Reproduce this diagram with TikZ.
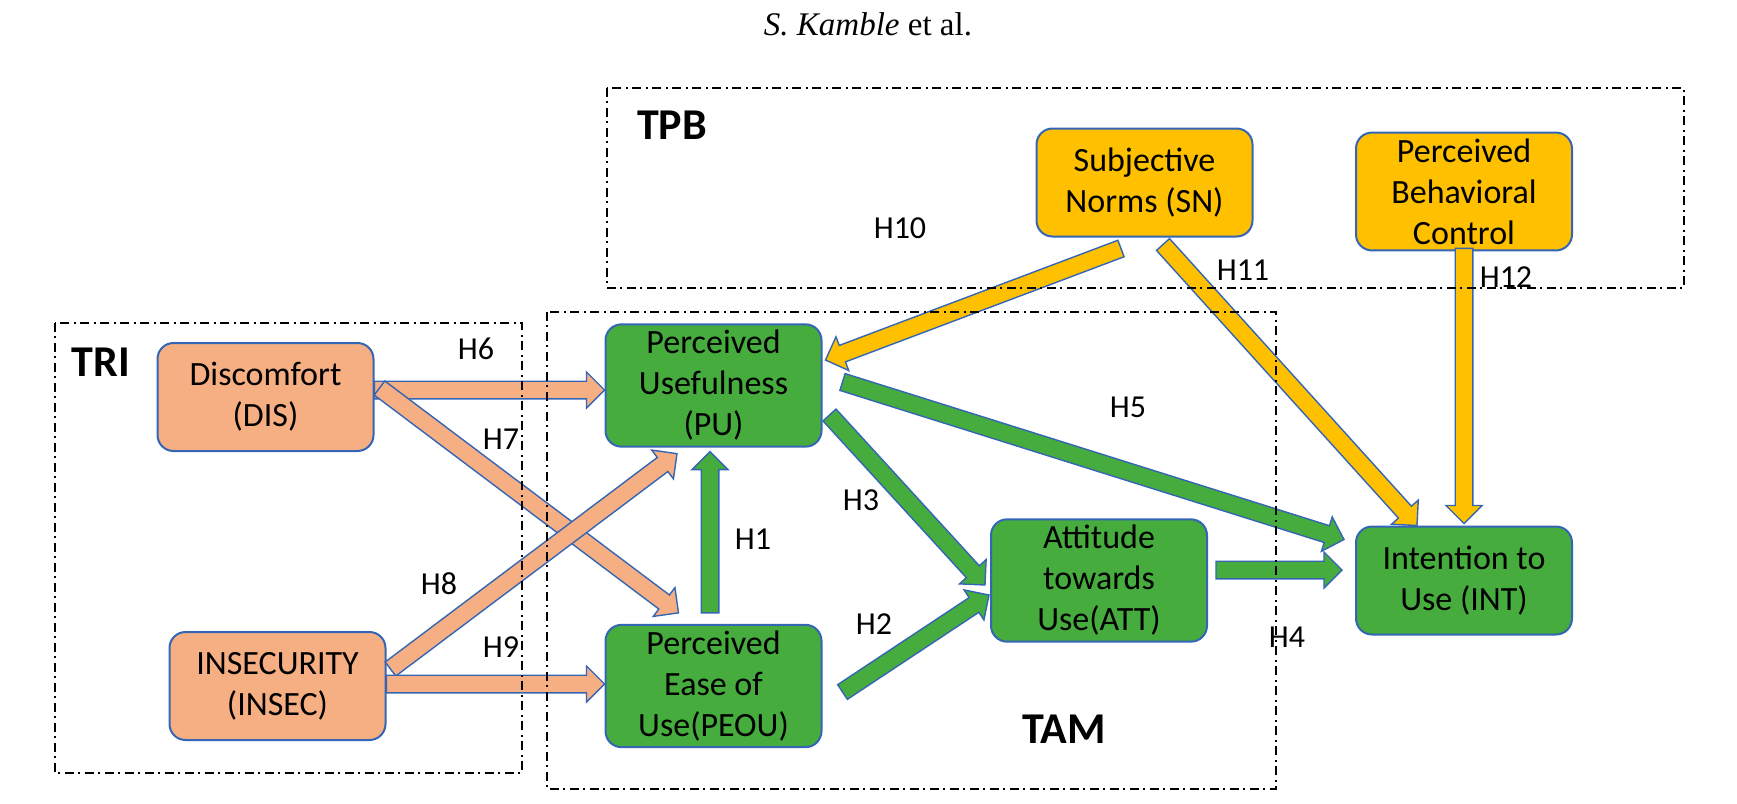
\documentclass[tikz,border=0pt]{standalone}
\usepackage{fontspec}
\setmainfont{Carlito}
\newfontfamily\paperfont{Liberation Serif}
\usetikzlibrary{positioning,calc}
\definecolor{salmon}{HTML}{F6AF83}
\definecolor{leaf}{HTML}{45AC3D}
\definecolor{gold}{HTML}{FFC000}
\definecolor{edgeblue}{HTML}{3565B5}
\tikzstyle{construct}=[rectangle, rounded corners=8pt, draw=edgeblue, line width=1pt, minimum width=108pt, minimum height=54pt, inner sep=3pt, align=center, font=\fontsize{17}{20.5}\selectfont]
\tikzstyle{frame}=[line width=0.75pt, dash pattern=on 4.5pt off 2pt on 1pt off 2.5pt]
\tikzstyle{hyp}=[font=\fontsize{16}{19}\selectfont]
\tikzstyle{model}=[font=\fontsize{22}{26}\selectfont\bfseries]
\tikzstyle{fat}=[draw=edgeblue, line width=0.7pt, line join=miter]
\newcommand{\arrshaft}{4.4pt}
\newcommand{\arrhead}{9pt}
\newcommand{\arrlen}{9pt}
% block arrow: colour, from, to
\newcommand{\fatarrow}[3]{%
  \path (#2) coordinate (fa) (#3) coordinate (fb);
  \coordinate (fc) at ($(fb)!\arrlen!(fa)$);
  \draw[fat, fill=#1] ($(fa)!\arrshaft!90:(fb)$) -- ($(fc)!\arrshaft!-90:(fa)$) -- ($(fc)!\arrhead!-90:(fa)$) -- (fb) -- ($(fc)!\arrhead!90:(fa)$) -- ($(fc)!\arrshaft!90:(fa)$) -- ($(fa)!\arrshaft!-90:(fb)$) -- cycle;
}

\begin{document}
\begin{tikzpicture}[x=0.5pt, y=-0.5pt, on grid]
	\useasboundingbox (0,0) rectangle (1737,804);
	\node[font=\paperfont\fontsize{16.5}{19}\selectfont] (head) at (868,24) {\textit{S. Kamble} et al.};
	\node[construct, fill=salmon] (dis) at (265.5,397) {Discomfort\\(DIS)};
	\node[construct, fill=salmon] (insec) at (277.5,686) {INSECURITY\\(INSEC)};
	\node[construct, fill=leaf] (pu) at (713.5,385.5) {Perceived\\Usefulness\\(PU)};
	\node[construct, fill=leaf, below=150.25pt of pu] (peou) {Perceived\\Ease of\\Use(PEOU)};
	\node[construct, fill=leaf] (att) at (1099,580.5) {Attitude\\towards\\Use(ATT)};
	\node[construct, fill=leaf, right=182.5pt of att] (int) {Intention to\\Use (INT)};
	\node[construct, fill=gold] (sn) at (1144.5,182.5) {Subjective\\Norms (SN)};
	\node[construct, fill=gold, above=194.5pt of int] (pbc) {Perceived\\Behavioral\\Control};
	% TRI -> TAM
	\fatarrow{salmon}{$(dis.east)+(0,-7)$}{$(pu.west)+(0,4.5)$}
	\fatarrow{salmon}{$(dis.east)+(5,-9)$}{$(peou.north west)+(74,-11)$}
	\fatarrow{salmon}{$(insec.east)+(4,-17)$}{$(pu.south)+(-36.5,6)$}
	\fatarrow{salmon}{$(insec.east)+(0,-2)$}{$(peou.west)+(0,-2)$}
	% TAM
	\fatarrow{leaf}{$(peou.north)+(-3.5,-11)$}{$(pu.south)+(-3.5,4)$}
	\fatarrow{leaf}{$(peou.east)+(20,6)$}{$(att.west)+(-1,14.5)$}
	\fatarrow{leaf}{$(pu.east)+(7,29.5)$}{$(att.west)+(-5,4.5)$}
	\fatarrow{leaf}{$(att.east)+(8,-10.5)$}{$(int.west)+(-13,-10.5)$}
	\fatarrow{leaf}{$(pu.east)+(20,-3.5)$}{$(int.west)+(-11,-41)$}
	% TPB
	\fatarrow{gold}{$(sn.south)+(-23.5,11)$}{$(pu.east)+(3,-25.5)$}
	\fatarrow{gold}{$(sn.south)+(18.5,7)$}{$(int.north)+(-47,0)$}
	\fatarrow{gold}{$(pbc.south)+(0,-3)$}{$(int.north)+(0,-2)$}
	\foreach \n/\x/\y in {1/753/539, 2/874/624, 3/861/500, 4/1287/637, 5/1128/407, 6/476/349, 7/501/439, 8/439/584, 9/501/647, 10/900/228, 11/1243/270, 12/1506/277}
		\node[hyp] (h\n) at (\x,\y) {H\n};
	\draw[frame] (607,88) rectangle (1684,288);
	\draw[frame] (55,323) rectangle (522,773);
	\draw[frame] (547,312) rectangle (1276,789);
	\node[model] (tpb) at (672,125) {TPB};
	\node[model] (tri) at (101,362) {TRI};
	\node[model] (tam) at (1064,729) {TAM};
\end{tikzpicture}
\end{document}
